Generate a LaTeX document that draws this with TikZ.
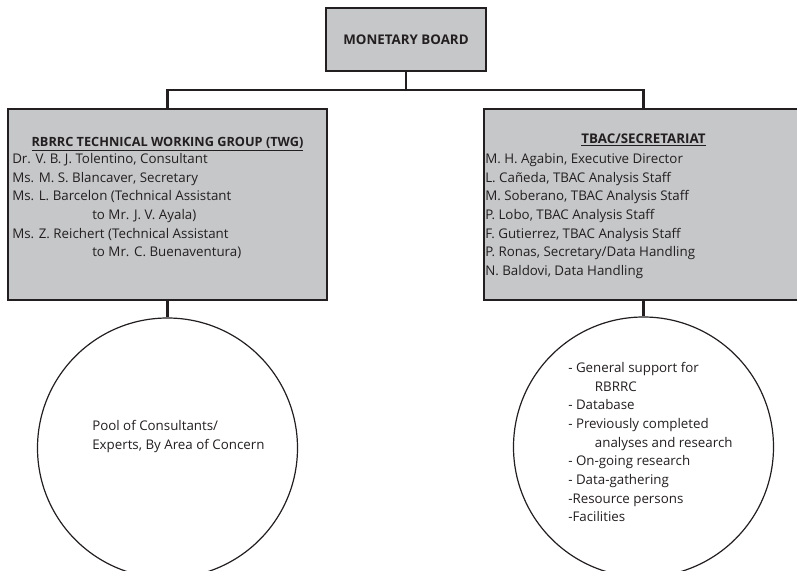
\documentclass[tikz,border=0pt]{standalone}
\usepackage{fontspec}
\setmainfont{Open Sans}
\usetikzlibrary{positioning}
\definecolor{boxgray}{HTML}{C6C7C9}
\definecolor{inkline}{HTML}{231F20}

\begin{document}
\begin{tikzpicture}[x=0.75pt,y=-0.75pt,
  every node/.style={text=inkline, font=\fontsize{10}{14}\selectfont},
  orgbox/.style={draw=inkline, fill=boxgray, line width=2.2pt, inner sep=0pt},
  poolcircle/.style={draw=inkline, circle, line width=0.9pt, minimum size=195pt, inner sep=0pt},
  link/.style={draw=inkline, line width=1.9pt},
  boxtext/.style={align=left, inner sep=0pt, anchor=north west}]
\useasboundingbox (0,0) rectangle (797,571);
\clip (0,0) rectangle (797,571);

% boxes
\node[orgbox, minimum width=120pt, minimum height=47.25pt, font=\fontsize{10}{14}\selectfont\bfseries] (board) at (406,39.5) {MONETARY BOARD};
\node[orgbox, minimum width=239.25pt, minimum height=143.25pt] (twg) at (167.5,204.5) {};
\node[orgbox, minimum width=239.25pt, minimum height=143.25pt] (secr) at (643.5,204.5) {};

% circles
\node[poolcircle] (pool) at (167.5,448) {};
\node[poolcircle] (support) at (643.5,447) {};

% connectors
\coordinate (jl) at (167.5,90);
\coordinate (jr) at (643.5,90);
\draw[link] (board.south) -- (board.south |- jl);
\draw[link] (twg.north) -- (jl) -- (jr) -- (secr.north);
\draw[link] (twg.south) -- (pool.north);
\draw[link] (secr.south) -- (support.north);

% texts
\node[anchor=base, font=\fontsize{9.55}{14}\selectfont\bfseries] (twghead) at (167.5,146) {\underline{RBRRC TECHNICAL WORKING GROUP (TWG)}};
\node[boxtext] (twgstaff) at (12,153) {Dr. V. B. J. Tolentino, Consultant\\
Ms. M. S. Blancaver, Secretary\\
Ms. L. Barcelon (Technical Assistant\\
\hspace*{60pt}to Mr. J. V. Ayala)\\
Ms. Z. Reichert (Technical Assistant\\
\hspace*{60pt}to Mr. C. Buenaventura)};
\node[anchor=base, font=\fontsize{10}{14}\selectfont\bfseries] (secrhead) at (643.5,143) {\underline{TBAC/SECRETARIAT}};
\node[boxtext] (secrstaff) at (485,153) {M. H. Agabin, Executive Director\\
L. Cañeda, TBAC Analysis Staff\\
M. Soberano, TBAC Analysis Staff\\
P. Lobo, TBAC Analysis Staff\\
F. Gutierrez, TBAC Analysis Staff\\
P. Ronas, Secretary/Data Handling\\
N. Baldovi, Data Handling};
\node[boxtext] (pooltext) at (92,420) {Pool of Consultants/\\
Experts, By Area of Concern};
\node[boxtext] (supporttext) at (568,362) {- General support for\\
\hspace*{20pt}RBRRC\\
- Database\\
- Previously completed\\
\hspace*{20pt}analyses and research\\
- On-going research\\
- Data-gathering\\
-Resource persons\\
-Facilities};
\end{tikzpicture}
\end{document}
